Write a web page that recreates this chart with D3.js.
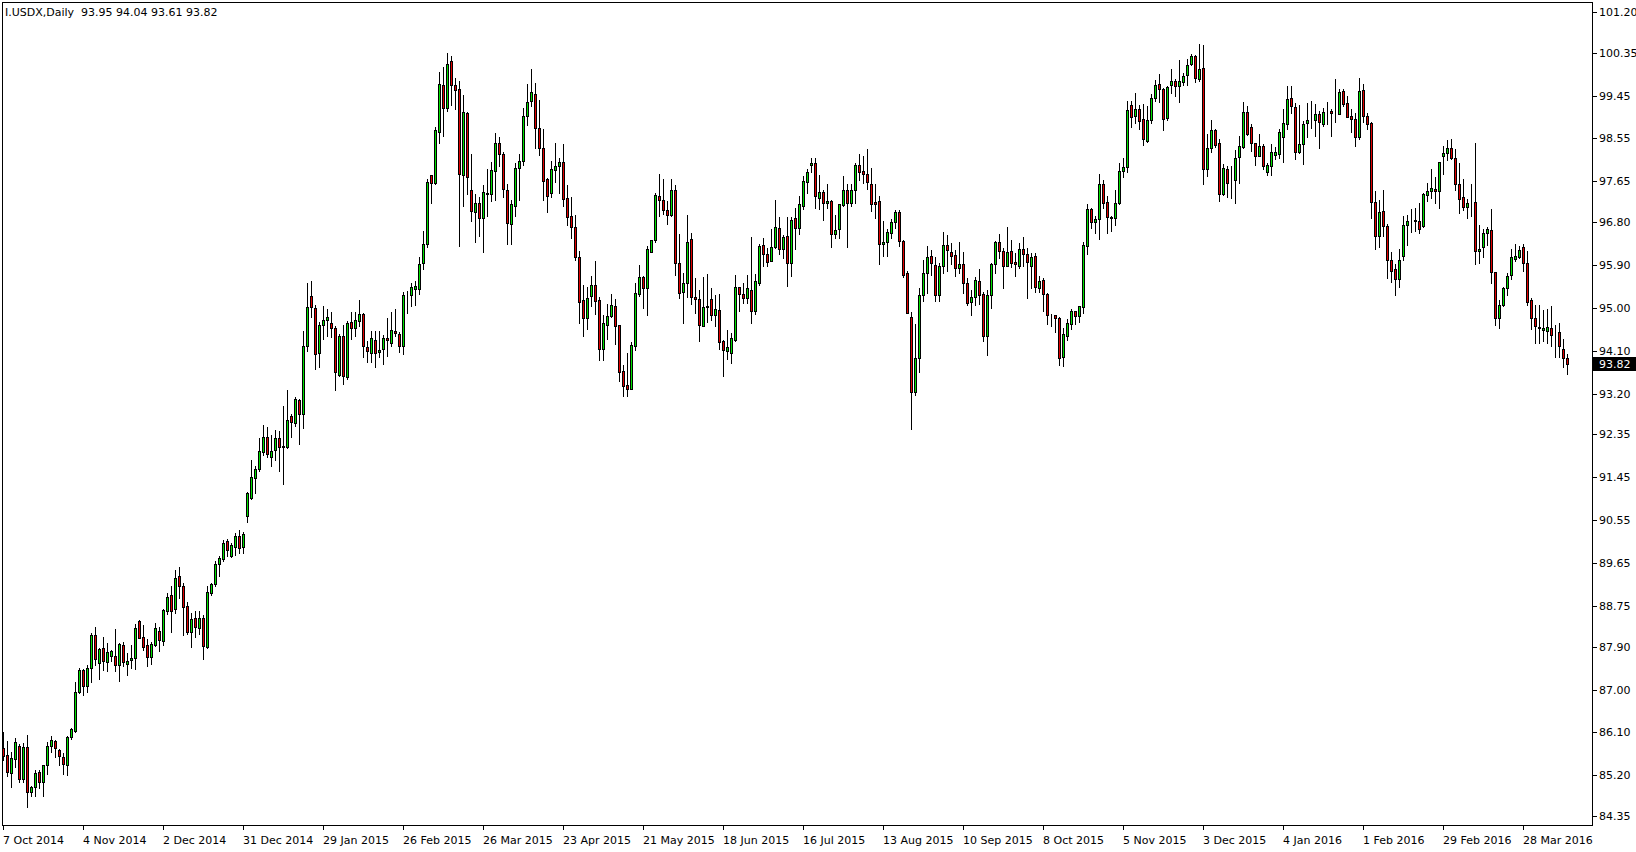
<!DOCTYPE html>
<html><head><meta charset="utf-8">
<script src="https://cdn.jsdelivr.net/npm/d3@7"></script>
<style>
html,body{margin:0;padding:0;background:#fff;}
svg{display:block;}
</style></head>
<body>
<svg id="c" width="1636" height="852"></svg>
<script>
const symbolName = "I.USDX,Daily";
const opens = [85.77,85.63,85.25,85.54,85.81,85.12,85.79,84.85,84.95,85.27,85.06,85.41,85.81,85.92,85.73,85.58,85.41,86.00,86.14,86.94,
87.41,87.08,87.45,88.14,87.55,87.87,87.57,87.70,87.70,87.51,87.93,87.54,87.61,87.66,88.44,88.10,87.93,87.68,87.93,88.23,
88.01,88.65,88.98,88.68,89.38,89.17,88.75,88.21,88.49,88.30,88.50,87.89,89.02,89.21,89.63,89.73,90.11,89.80,89.99,90.22,
89.98,90.63,91.01,91.43,91.63,91.97,92.30,91.87,92.03,92.28,92.11,92.09,92.73,92.58,93.06,92.77,94.19,95.25,94.99,94.05,
94.63,94.74,94.68,94.57,93.59,94.40,93.56,94.70,94.57,94.73,94.87,94.17,94.06,94.33,94.07,94.13,94.36,94.26,94.51,94.45,
94.19,95.26,95.26,95.40,95.39,95.95,96.34,97.78,97.61,98.69,99.67,99.19,100.17,99.67,99.58,97.78,99.08,97.46,97.00,97.19,
96.88,97.40,97.38,97.87,98.45,98.22,97.48,96.75,97.14,97.94,98.08,99.01,99.34,99.49,98.76,98.36,97.69,97.40,97.89,97.98,
98.05,97.30,96.92,96.70,96.07,95.16,94.79,95.25,95.48,95.16,94.14,94.65,94.83,95.04,94.63,93.68,93.38,93.30,94.21,95.30,
95.65,95.42,96.18,96.42,97.34,97.27,97.06,96.95,97.46,95.95,95.33,95.53,96.44,95.22,95.18,94.62,95.01,95.18,94.84,94.95,
94.31,94.10,94.06,94.33,95.43,95.28,95.21,95.37,94.94,95.53,96.32,96.12,95.99,96.27,96.67,96.23,96.51,95.95,96.88,96.68,
97.13,97.64,98.00,98.03,97.31,97.42,97.19,97.24,96.55,96.65,97.16,97.46,97.19,97.47,97.99,97.87,97.80,97.60,97.21,97.23,
96.33,96.37,96.56,96.79,97.00,96.41,95.72,94.80,93.23,93.94,95.26,95.72,96.09,95.90,95.26,95.88,96.32,96.18,96.11,95.84,
95.92,95.51,95.13,95.23,95.56,95.28,94.40,95.26,95.92,96.37,96.19,95.88,96.19,95.97,95.88,96.23,96.13,95.88,96.09,95.42,
95.58,95.30,94.86,94.85,94.79,93.96,94.42,94.66,94.93,94.83,95.02,96.30,97.07,96.79,96.86,97.59,97.21,96.91,96.88,97.19,
97.87,97.96,99.25,99.02,99.16,98.95,98.50,98.94,99.39,99.69,99.58,98.97,99.66,99.75,99.65,99.74,99.87,100.11,100.28,99.79,
100.02,97.90,98.36,98.73,98.45,97.38,97.92,97.68,97.68,98.17,98.38,99.11,98.78,98.46,98.19,98.39,97.85,97.98,98.20,98.22,
98.57,98.85,99.39,99.20,98.27,98.43,98.87,98.94,98.94,99.06,98.85,99.10,99.13,99.08,99.06,99.55,99.29,99.02,98.95,98.59,
99.57,99.02,98.87,97.21,96.51,97.03,96.72,96.00,95.81,95.61,96.09,96.74,96.82,96.84,96.82,96.72,97.37,97.44,97.49,97.44,
98.19,98.24,98.34,98.15,97.59,97.32,97.11,97.19,97.21,96.19,96.27,96.56,96.63,95.75,94.78,95.06,95.42,95.68,96.02,96.07,
96.27,95.93,95.17,94.78,94.59,94.54,94.52,94.57,94.47,94.49,94.13,93.95];
const highs = [86.12,85.92,85.69,85.99,85.86,85.87,86.05,84.97,85.32,85.32,85.41,85.91,86.03,85.94,85.75,85.67,86.03,86.20,87.15,87.46,
87.43,87.52,88.19,88.31,87.87,88.10,87.98,87.83,88.27,87.97,87.99,87.76,87.94,88.37,88.46,88.35,88.06,87.99,88.40,88.31,
88.69,89.03,89.18,89.51,89.56,89.24,88.84,88.61,88.65,88.65,88.56,89.16,89.23,89.70,89.80,90.14,90.15,90.07,90.29,90.35,
90.31,91.13,91.81,91.69,92.27,92.55,92.50,92.34,92.43,92.41,92.95,93.28,92.77,93.14,93.08,94.52,95.53,95.56,95.06,94.71,
95.04,94.98,94.91,94.61,94.45,94.64,94.72,94.91,94.91,95.17,94.89,94.31,94.51,94.51,94.51,94.43,94.78,94.92,94.97,94.50,
95.34,95.35,95.53,95.57,96.06,96.61,97.71,97.78,98.78,99.94,100.04,100.35,100.28,99.81,99.76,99.46,99.11,98.22,97.38,97.33,
97.57,97.92,98.06,98.66,98.59,98.27,97.59,97.27,98.03,98.22,99.18,99.69,100.00,99.72,99.36,98.74,97.73,98.08,98.45,98.13,
98.43,97.57,97.32,96.95,96.19,95.48,95.43,95.67,95.99,95.23,94.85,95.09,95.28,95.18,94.64,93.80,94.05,94.29,95.53,95.90,
95.67,96.30,96.42,97.41,97.80,97.69,97.23,97.71,97.58,96.54,95.74,96.94,96.56,95.62,95.37,95.64,95.71,95.41,95.27,95.28,
94.33,94.53,94.47,95.69,95.44,95.53,95.69,96.48,95.71,96.33,96.47,96.25,96.65,97.26,96.90,96.53,96.90,96.90,97.09,97.34,
97.76,97.91,98.15,98.13,97.78,97.46,97.59,97.26,96.95,97.18,97.76,97.59,97.59,98.03,98.22,98.18,98.32,97.94,97.59,97.34,
96.81,96.65,96.86,97.05,97.04,96.42,95.78,94.92,94.66,95.41,96.00,96.30,96.21,96.06,95.93,96.58,96.53,96.35,96.21,96.37,
96.16,95.63,95.37,95.64,95.81,95.34,95.37,95.95,96.40,96.55,96.25,96.69,96.42,96.14,96.35,96.49,96.25,96.14,96.14,95.67,
95.62,95.32,94.87,94.86,94.81,94.57,94.76,94.97,94.93,95.04,96.37,97.18,97.09,96.93,97.80,97.68,97.34,96.93,97.48,98.04,
98.13,99.34,99.34,99.51,99.25,99.27,99.22,99.48,99.77,99.90,99.60,99.65,100.00,99.79,100.19,99.93,100.21,100.33,100.30,100.53,
100.51,98.64,98.94,98.74,98.53,98.01,97.97,97.97,98.31,98.60,99.32,99.23,98.85,98.46,98.64,98.43,98.04,98.43,98.38,98.75,
99.17,99.64,99.65,99.30,99.25,98.92,99.30,99.33,99.27,99.13,99.18,99.31,99.16,99.80,99.59,99.59,99.44,99.16,99.09,99.81,
99.69,99.09,98.90,97.45,97.26,97.47,96.75,96.16,95.91,96.23,96.93,96.95,97.07,97.09,97.19,97.41,97.62,97.91,97.74,98.05,
98.39,98.52,98.53,98.32,98.03,97.70,97.28,97.59,98.46,96.74,96.65,96.69,97.07,95.76,95.16,95.44,95.72,96.23,96.34,96.30,
96.34,96.19,95.20,95.06,95.06,94.96,94.97,95.04,94.64,94.68,94.35,94.04];
const lows = [85.53,85.18,84.95,85.37,85.07,85.06,84.53,84.76,84.76,84.93,84.76,85.22,85.69,85.58,85.41,85.24,85.20,85.97,86.11,86.92,
86.89,86.94,87.15,87.51,87.23,87.40,87.39,87.59,87.38,87.17,87.50,87.30,87.46,87.43,88.07,87.82,87.50,87.53,87.91,87.80,
87.94,88.58,88.21,88.60,88.91,88.14,88.16,87.90,88.11,88.17,87.63,87.87,88.98,89.16,89.37,89.70,89.79,89.77,89.82,89.86,
89.87,90.52,90.99,91.11,91.59,91.92,91.88,91.69,91.81,91.59,91.30,92.07,92.30,92.52,92.14,92.48,94.10,94.80,93.71,93.77,
94.34,94.41,94.38,93.27,93.57,93.40,93.51,94.34,94.40,94.61,93.96,93.87,93.87,93.77,93.96,93.82,94.00,94.20,94.40,94.08,
94.03,94.89,95.03,95.06,95.29,95.82,96.28,97.20,97.60,98.45,98.61,99.13,99.25,99.17,96.30,97.14,97.39,96.82,96.39,96.50,
96.16,96.92,97.23,97.25,97.97,97.33,96.34,96.33,96.93,97.26,97.99,98.83,99.24,98.34,98.20,97.26,97.00,97.33,97.64,97.41,
97.14,96.74,96.46,96.00,94.68,94.41,94.55,95.04,94.87,93.91,93.91,94.35,94.81,94.24,93.47,93.16,93.16,93.29,94.12,95.25,
95.00,94.84,96.16,96.39,96.93,96.96,96.76,96.92,95.69,95.21,94.68,95.23,95.08,94.90,94.31,94.61,94.70,94.75,94.62,94.14,
93.58,93.92,93.84,94.31,94.93,95.11,95.10,94.69,94.87,95.47,95.88,95.88,95.98,96.26,96.13,96.05,95.46,95.67,96.23,96.55,
97.07,97.40,97.85,97.09,97.07,96.84,97.10,96.27,96.46,96.46,97.13,96.28,97.13,97.20,97.68,97.62,97.50,97.02,96.88,95.91,
96.09,96.09,96.46,96.68,96.30,95.65,94.89,92.47,93.17,93.66,95.15,95.32,95.69,95.15,95.15,95.72,95.78,95.91,95.67,95.74,
95.32,95.06,94.85,95.06,95.08,94.30,94.01,94.99,95.72,96.04,95.41,95.88,95.86,95.67,95.84,95.88,95.20,95.41,95.34,95.33,
94.94,94.66,94.61,94.50,93.80,93.79,94.33,94.56,94.66,94.71,94.90,96.12,96.67,96.56,96.44,97.10,96.56,96.62,96.74,97.17,
97.75,97.85,98.80,98.88,98.75,98.41,98.48,98.88,99.34,99.32,98.73,98.94,99.51,99.45,99.31,99.68,99.68,100.08,99.74,99.76,
97.60,97.76,98.27,98.38,97.23,97.36,97.33,97.30,97.20,97.62,98.36,98.62,98.29,97.99,98.18,97.91,97.78,97.78,98.11,98.13,
98.06,98.75,99.09,98.11,98.24,98.01,98.59,98.76,98.61,98.36,98.81,98.85,98.61,98.89,99.06,99.22,98.99,98.69,98.40,98.54,
98.90,98.75,96.88,96.23,96.27,96.51,95.63,95.55,95.26,95.43,96.00,96.32,96.58,96.60,96.56,96.70,97.23,97.30,97.20,97.09,
97.80,98.10,98.11,97.47,96.99,97.04,96.88,96.93,95.91,95.93,96.07,96.32,95.52,94.63,94.57,95.04,95.26,95.61,95.99,96.04,
95.77,95.05,94.55,94.27,94.27,94.31,94.26,94.19,93.98,93.98,93.75,93.61];
const closes = [85.61,85.27,85.56,85.90,85.13,85.79,84.85,84.95,85.25,85.06,85.41,85.81,85.94,85.77,85.61,85.43,86.00,86.17,86.94,87.41,
87.08,87.45,88.14,87.63,87.86,87.59,87.78,87.80,87.51,87.95,87.57,87.59,87.66,88.28,88.09,87.89,87.68,87.95,88.30,88.03,
88.67,88.95,88.65,89.33,89.17,88.72,88.21,88.47,88.32,88.51,87.91,89.04,89.21,89.63,89.75,90.08,89.93,90.03,90.21,89.96,
90.26,91.11,91.45,91.62,91.99,92.30,91.93,92.01,92.27,92.09,92.08,92.64,92.60,93.08,92.78,94.19,95.01,95.01,94.03,94.64,
94.74,94.80,94.57,93.66,94.40,93.58,94.68,94.58,94.74,94.87,94.19,94.10,94.36,94.06,94.12,94.36,94.33,94.54,94.47,94.19,
95.27,95.27,95.43,95.46,95.91,96.34,97.63,97.62,98.73,99.69,99.18,100.12,99.68,99.57,97.80,99.10,97.75,97.02,97.19,96.88,
97.42,97.38,97.89,98.45,98.22,97.50,96.77,97.18,97.94,98.08,99.02,99.31,99.52,98.76,98.34,97.66,97.35,97.90,97.98,98.05,
97.28,96.91,96.70,96.07,95.13,94.79,95.20,95.48,95.15,94.14,94.68,94.82,95.06,94.61,93.66,93.37,93.29,94.22,95.32,95.65,
95.41,96.23,96.42,97.36,97.27,97.06,96.94,97.46,95.95,95.32,95.51,96.37,95.22,95.18,94.63,95.02,95.04,94.84,94.97,94.29,
94.12,94.17,94.36,95.43,95.29,95.21,95.41,94.94,95.56,96.30,96.12,95.97,96.27,96.69,96.23,96.48,95.95,96.85,96.67,97.17,
97.66,97.85,98.03,97.34,97.42,97.19,97.24,96.54,96.63,97.18,97.46,97.20,97.48,97.99,97.85,97.80,97.64,97.17,97.17,96.33,
96.37,96.58,96.79,97.00,96.41,95.69,94.90,93.24,93.94,95.26,95.72,96.06,95.93,95.26,95.88,96.32,96.21,96.09,95.83,95.92,
95.51,95.11,95.23,95.58,95.27,94.40,95.27,95.92,96.37,96.20,95.88,96.16,95.95,95.91,96.23,96.13,95.97,96.06,95.44,95.56,
95.28,94.86,94.85,94.78,93.94,94.45,94.68,94.93,94.83,95.04,96.32,97.07,96.79,96.86,97.59,97.19,96.91,96.88,97.19,97.87,
97.96,99.15,99.00,99.16,98.92,98.53,98.94,99.39,99.66,99.58,98.96,99.62,99.76,99.65,99.75,99.86,100.09,100.28,99.81,100.00,
97.90,98.36,98.73,98.41,97.38,97.94,97.61,97.68,98.15,98.39,99.11,98.64,98.46,98.19,98.39,97.98,97.99,98.26,98.26,98.68,
98.87,99.37,99.23,98.27,98.43,98.85,98.94,98.94,99.06,98.89,99.10,99.10,99.08,99.08,99.52,99.27,98.99,98.96,98.59,99.54,
99.01,98.85,97.21,96.51,97.00,96.72,96.00,95.77,95.60,96.00,96.74,96.83,96.82,96.81,96.65,97.39,97.45,97.51,97.44,98.05,
98.24,98.34,98.15,97.59,97.28,97.11,97.19,97.19,96.20,96.23,96.56,96.65,95.75,94.78,95.06,95.42,95.67,96.06,96.09,96.21,
95.93,95.13,94.78,94.61,94.57,94.57,94.59,94.43,94.47,94.19,93.94,93.82];
const priceTicks = ["101.20","100.35","99.45","98.55","97.65","96.80","95.90","95.00","94.10","93.20","92.35","91.45","90.55","89.65","88.75","87.90","87.00","86.10","85.20","84.35"];
const dateTickBars = [0,20,40,60,80,100,120,140,160,180,200,220,240,260,280,300,320,340,360,380];
const dateTickLabels = ["7 Oct 2014","4 Nov 2014","2 Dec 2014","31 Dec 2014","29 Jan 2015","26 Feb 2015","26 Mar 2015","23 Apr 2015","21 May 2015","18 Jun 2015","16 Jul 2015","13 Aug 2015","10 Sep 2015","8 Oct 2015","5 Nov 2015","3 Dec 2015","4 Jan 2016","1 Feb 2016","29 Feb 2016","28 Mar 2016"];

const W = 1636, H = 852;
const frameL = 2, frameT = 2, frameR = 1592, frameB = 825;
const N = closes.length;
const svg = d3.select("#c");
const bars = d3.range(N).map(i => ({i, o: opens[i], h: highs[i], l: lows[i], c: closes[i]}));

const x = d3.scaleLinear().domain([0, N - 1]).range([3, 3 + 4 * (N - 1)]);
const y = d3.scaleLinear().domain([84.35, 101.20]).range([816, 12]);

svg.append("rect").attr("width", W).attr("height", H).attr("fill", "#fff");

svg.append("rect").attr("x", frameL + 0.5).attr("y", frameT + 0.5)
  .attr("width", frameR - frameL).attr("height", frameB - frameT)
  .attr("fill", "none").attr("stroke", "#000").attr("stroke-width", 1);

const plot = svg.append("g");
const snap = v => Math.round(v) + 0.5;

plot.selectAll("line.wick").data(bars).join("line")
  .attr("class", "wick")
  .attr("x1", d => Math.round(x(d.i)) + 0.5).attr("x2", d => Math.round(x(d.i)) + 0.5)
  .attr("y1", d => Math.round(y(d.h))).attr("y2", d => Math.round(y(d.l)) + 1)
  .attr("stroke", "#000").attr("stroke-width", 1);

plot.selectAll("rect.body").data(bars).join("rect")
  .attr("class", "body")
  .attr("x", d => Math.round(x(d.i)) - 0.5)
  .attr("y", d => snap(y(Math.max(d.o, d.c))))
  .attr("width", 2)
  .attr("height", d => Math.max(0, Math.round(y(Math.min(d.o, d.c))) - Math.round(y(Math.max(d.o, d.c)))))
  .attr("fill", d => d.c > d.o ? "#00e000" : (d.c < d.o ? "#e00000" : "#000"))
  .attr("stroke", "#000").attr("stroke-width", 1);

const yAxisG = svg.append("g");
yAxisG.selectAll("line.pt").data(priceTicks).join("line")
  .attr("x1", frameR + 0.5).attr("x2", frameR + 5)
  .attr("y1", d => snap(y(+d))).attr("y2", d => snap(y(+d)))
  .attr("stroke", "#000");
yAxisG.selectAll("text.pt").data(priceTicks).join("text")
  .attr("x", frameR + 7).attr("y", d => y(+d) + 4)
  .attr("font-family", "DejaVu Sans, Verdana, sans-serif").attr("font-size", 11)
  .attr("fill", "#000").text(d => d);

const last = closes[N - 1];
svg.append("rect").attr("x", frameR + 1).attr("y", Math.round(y(last)) - 7)
  .attr("width", W - frameR - 1).attr("height", 14).attr("fill", "#000");
svg.append("text").attr("x", frameR + 7).attr("y", y(last) + 4)
  .attr("font-family", "DejaVu Sans, Verdana, sans-serif").attr("font-size", 11)
  .attr("fill", "#fff").text(last.toFixed(2));

const xAxisG = svg.append("g");
xAxisG.selectAll("line.dt").data(dateTickBars).join("line")
  .attr("x1", d => Math.round(x(d)) + 0.5).attr("x2", d => Math.round(x(d)) + 0.5)
  .attr("y1", frameB + 0.5).attr("y2", frameB + 5)
  .attr("stroke", "#000");
xAxisG.selectAll("text.dt").data(dateTickBars).join("text")
  .attr("x", d => Math.round(x(d)))
  .attr("y", frameB + 19)
  .attr("font-family", "DejaVu Sans, sans-serif").attr("font-size", 11)
  .attr("fill", "#000").text((d, k) => dateTickLabels[k]);

svg.append("text").attr("x", 5).attr("y", 16)
  .attr("font-family", "DejaVu Sans, sans-serif").attr("font-size", 11)
  .attr("fill", "#000").attr("xml:space", "preserve")
  .text(symbolName + "  " + [opens[N-1], highs[N-1], lows[N-1], closes[N-1]].map(v => v.toFixed(2)).join(" "));
</script>
</body></html>
